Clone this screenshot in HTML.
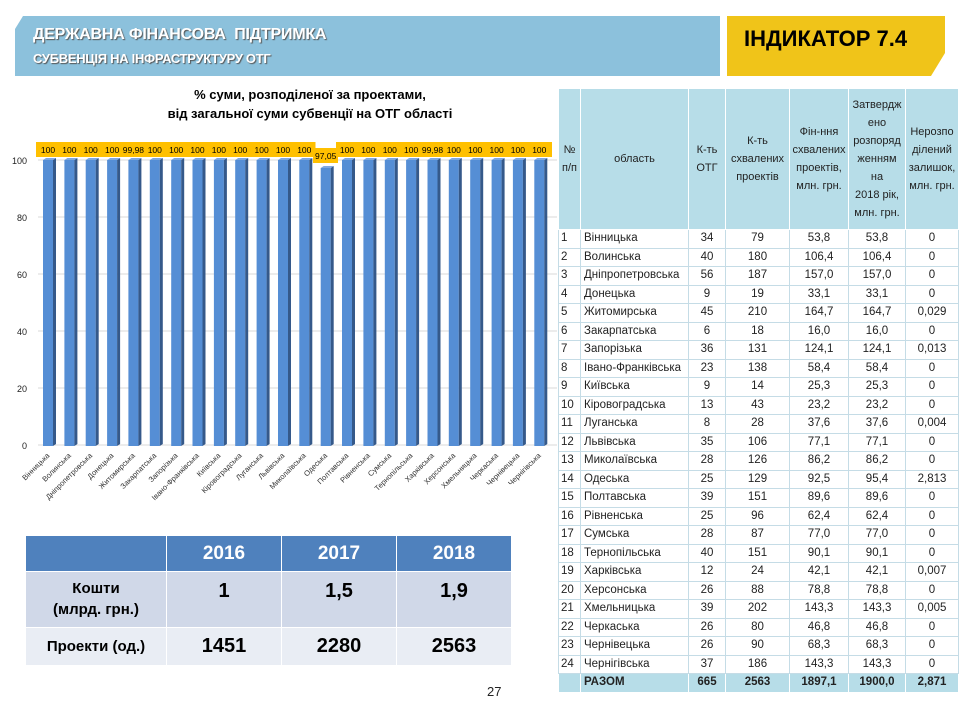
<!DOCTYPE html>
<html><head><meta charset="utf-8"><style>
body{margin:0;width:960px;height:720px;background:#fff;position:relative;overflow:hidden;font-family:"Liberation Sans","DejaVu Sans",sans-serif}
.hb{position:absolute;left:15px;top:16px;width:705px;height:60px;background:#8CC1DC}
.hb .t1{position:absolute;left:18px;top:10px;color:#fff;font-weight:bold;font-size:16px;text-shadow:1px 1px 1px #555;letter-spacing:-0.2px}
.hb .t2{position:absolute;left:18px;top:35px;color:#fff;font-weight:bold;font-size:13px;text-shadow:1px 1px 1px #555;letter-spacing:-0.3px}
.yb{position:absolute;left:727px;top:16px;width:218px;height:60px;background:#F0C419}
.yb span{position:absolute;left:17px;top:10px;font-weight:bold;font-size:22px;color:#000}
table{border-collapse:collapse;table-layout:fixed}
#rt{position:absolute;left:558px;top:88px;width:400px;font-size:11.5px;color:#222}
#rt td{border:1px solid #C5DCE6;padding:0 1px;height:17.5px;line-height:17px;text-align:center;white-space:nowrap;overflow:hidden}
#rt tr.h td{background:#B7DDE8;height:140px;line-height:18px;border-color:#fff;font-size:11px;padding:0}
#rt td.n{text-align:left;padding-left:2px}
#rt td.o{text-align:left;padding-left:3px}
#rt tr.s td{background:#B7DDE8;font-weight:bold;border-color:#fff}
#bt{position:absolute;left:25px;top:535px;width:486px;font-weight:bold;text-align:center}
#bt td{border:1px solid #fff}
</style></head><body>
<div class="hb"><div class="t1">ДЕРЖАВНА ФІНАНСОВА&nbsp; ПІДТРИМКА</div><div class="t2">СУБВЕНЦІЯ НА ІНФРАСТРУКТУРУ ОТГ</div></div>
<div class="yb"><span>ІНДИКАТОР 7.4</span></div>
<svg style="position:absolute;left:0;top:0" width="960" height="90">
<polygon points="15,16 23,16 15,29" fill="#fff"/>
<polygon points="945,53 945,76 931,76" fill="#fff"/>
</svg>

<svg style="position:absolute;left:0;top:0" width="558" height="520" font-family="Liberation Sans, sans-serif">
<text x="310" y="99" text-anchor="middle" font-size="13" font-weight="bold">% суми, розподіленої за проектами,</text>
<text x="310" y="118" text-anchor="middle" font-size="13" font-weight="bold">від загальної суми субвенції на ОТГ області</text>
<g stroke="#D9D9D9" stroke-width="1">
<line x1="38" x2="557" y1="160" y2="160"/><line x1="38" x2="557" y1="217" y2="217"/><line x1="38" x2="557" y1="274" y2="274"/><line x1="38" x2="557" y1="331" y2="331"/><line x1="38" x2="557" y1="388" y2="388"/><line x1="38" x2="557" y1="445" y2="445"/></g>
<g font-size="9" text-anchor="end" fill="#222"><text x="27" y="164">100</text><text x="27" y="221">80</text><text x="27" y="278">60</text><text x="27" y="335">40</text><text x="27" y="392">20</text><text x="27" y="449">0</text></g>
<defs>
<g id="b"><rect x="0" y="160" width="10" height="286" fill="#558ED5"/><polygon points="10,160 13,158 13,444 10,446" fill="#35598A"/><polygon points="0,160 3,158 13,158 10,160" fill="#7FA8E0"/><rect x="-6" y="142" width="22.5" height="15" fill="#FFC000"/></g>
</defs>
<rect x="36" y="142" width="516" height="15" fill="#FFC000"/>
<use href="#b" x="43"/><use href="#b" x="64.4"/><use href="#b" x="85.7"/><use href="#b" x="107.1"/><use href="#b" x="128.4"/><use href="#b" x="149.8"/><use href="#b" x="171.2"/><use href="#b" x="192.5"/><use href="#b" x="213.9"/><use href="#b" x="235.2"/><use href="#b" x="256.6"/><use href="#b" x="278"/><use href="#b" x="299.3"/>
<rect x="315.5" y="142" width="22" height="6" fill="#fff"/>
<rect x="320.7" y="168" width="10" height="278" fill="#558ED5"/><polygon points="330.7,168 333.7,166 333.7,444 330.7,446" fill="#35598A"/><polygon points="320.7,168 323.7,166 333.7,166 330.7,168" fill="#7FA8E0"/><rect x="313" y="148" width="25" height="15" fill="#FFC000"/>
<use href="#b" x="342"/><use href="#b" x="363.4"/><use href="#b" x="384.8"/><use href="#b" x="406.1"/><use href="#b" x="427.5"/><use href="#b" x="448.8"/><use href="#b" x="470.2"/><use href="#b" x="491.6"/><use href="#b" x="512.9"/><use href="#b" x="534.3"/>
<g font-size="8.5" text-anchor="middle" fill="#000">
<text x="48" y="153">100</text><text x="69.4" y="153">100</text><text x="90.7" y="153">100</text><text x="112.1" y="153">100</text><text x="133.4" y="153">99,98</text><text x="154.8" y="153">100</text><text x="176.2" y="153">100</text><text x="197.5" y="153">100</text><text x="218.9" y="153">100</text><text x="240.2" y="153">100</text><text x="261.6" y="153">100</text><text x="283" y="153">100</text><text x="304.3" y="153">100</text><text x="325.7" y="159">97,05</text><text x="347" y="153">100</text><text x="368.4" y="153">100</text><text x="389.8" y="153">100</text><text x="411.1" y="153">100</text><text x="432.5" y="153">99,98</text><text x="453.8" y="153">100</text><text x="475.2" y="153">100</text><text x="496.6" y="153">100</text><text x="517.9" y="153">100</text><text x="539.3" y="153">100</text></g>
<g font-size="7.5" text-anchor="end" fill="#333">
<text transform="translate(50,456) rotate(-45)">Вінницька</text>
<text transform="translate(71.4,456) rotate(-45)">Волинська</text>
<text transform="translate(92.7,456) rotate(-45)">Дніпропетровська</text>
<text transform="translate(114.1,456) rotate(-45)">Донецька</text>
<text transform="translate(135.4,456) rotate(-45)">Житомирська</text>
<text transform="translate(156.8,456) rotate(-45)">Закарпатська</text>
<text transform="translate(178.2,456) rotate(-45)">Запорізька</text>
<text transform="translate(199.5,456) rotate(-45)">Івано-Франківська</text>
<text transform="translate(220.9,456) rotate(-45)">Київська</text>
<text transform="translate(242.2,456) rotate(-45)">Кіровоградська</text>
<text transform="translate(263.6,456) rotate(-45)">Луганська</text>
<text transform="translate(285,456) rotate(-45)">Львівська</text>
<text transform="translate(306.3,456) rotate(-45)">Миколаївська</text>
<text transform="translate(327.7,456) rotate(-45)">Одеська</text>
<text transform="translate(349,456) rotate(-45)">Полтавська</text>
<text transform="translate(370.4,456) rotate(-45)">Рівненська</text>
<text transform="translate(391.8,456) rotate(-45)">Сумська</text>
<text transform="translate(413.1,456) rotate(-45)">Тернопільська</text>
<text transform="translate(434.5,456) rotate(-45)">Харківська</text>
<text transform="translate(455.8,456) rotate(-45)">Херсонська</text>
<text transform="translate(477.2,456) rotate(-45)">Хмельницька</text>
<text transform="translate(498.6,456) rotate(-45)">Черкаська</text>
<text transform="translate(519.9,456) rotate(-45)">Чернівецька</text>
<text transform="translate(541.3,456) rotate(-45)">Чернігівська</text>
</g>
<line x1="15" x2="540" y1="693" y2="693" stroke="#C9D6E0"/>
</svg>

<table id="bt">
<colgroup><col style="width:141px"><col style="width:115px"><col style="width:115px"><col style="width:115px"></colgroup>
<tr style="height:36px;background:#4F81BD;color:#fff;font-size:19px"><td></td><td>2016</td><td>2017</td><td>2018</td></tr>
<tr style="height:56px;background:#D0D8E8;font-size:20px;vertical-align:top"><td style="font-size:15px;line-height:21px;padding-top:6px">Кошти<br>(млрд. грн.)</td><td style="padding-top:8px">1</td><td style="padding-top:8px">1,5</td><td style="padding-top:8px">1,9</td></tr>
<tr style="height:38px;background:#E9EDF4;font-size:20px"><td style="font-size:15px">Проекти (од.)</td><td>1451</td><td>2280</td><td>2563</td></tr>
</table>
<div style="position:absolute;left:487px;top:684px;font-size:13px;color:#222">27</div>

<table id="rt">
<colgroup><col style="width:22px"><col style="width:108px"><col style="width:37px"><col style="width:64px"><col style="width:59px"><col style="width:57px"><col style="width:53px"></colgroup>
<tr class="h"><td>№<br>п/п</td><td>область</td><td>К-ть<br>ОТГ</td><td>К-ть<br>схвалених<br>проектів</td><td>Фін-ння<br>схвалених<br>проектів,<br>млн. грн.</td><td>Затвердж<br>ено<br>розпоряд<br>женням<br>на<br>2018 рік,<br>млн. грн.</td><td>Нерозпо<br>ділений<br>залишок,<br>млн. грн.</td></tr>
<tr><td class="n">1</td><td class="o">Вінницька</td><td>34</td><td>79</td><td>53,8</td><td>53,8</td><td>0</td></tr>
<tr><td class="n">2</td><td class="o">Волинська</td><td>40</td><td>180</td><td>106,4</td><td>106,4</td><td>0</td></tr>
<tr><td class="n">3</td><td class="o">Дніпропетровська</td><td>56</td><td>187</td><td>157,0</td><td>157,0</td><td>0</td></tr>
<tr><td class="n">4</td><td class="o">Донецька</td><td>9</td><td>19</td><td>33,1</td><td>33,1</td><td>0</td></tr>
<tr><td class="n">5</td><td class="o">Житомирська</td><td>45</td><td>210</td><td>164,7</td><td>164,7</td><td>0,029</td></tr>
<tr><td class="n">6</td><td class="o">Закарпатська</td><td>6</td><td>18</td><td>16,0</td><td>16,0</td><td>0</td></tr>
<tr><td class="n">7</td><td class="o">Запорізька</td><td>36</td><td>131</td><td>124,1</td><td>124,1</td><td>0,013</td></tr>
<tr><td class="n">8</td><td class="o">Івано-Франківська</td><td>23</td><td>138</td><td>58,4</td><td>58,4</td><td>0</td></tr>
<tr><td class="n">9</td><td class="o">Київська</td><td>9</td><td>14</td><td>25,3</td><td>25,3</td><td>0</td></tr>
<tr><td class="n">10</td><td class="o">Кіровоградська</td><td>13</td><td>43</td><td>23,2</td><td>23,2</td><td>0</td></tr>
<tr><td class="n">11</td><td class="o">Луганська</td><td>8</td><td>28</td><td>37,6</td><td>37,6</td><td>0,004</td></tr>
<tr><td class="n">12</td><td class="o">Львівська</td><td>35</td><td>106</td><td>77,1</td><td>77,1</td><td>0</td></tr>
<tr><td class="n">13</td><td class="o">Миколаївська</td><td>28</td><td>126</td><td>86,2</td><td>86,2</td><td>0</td></tr>
<tr><td class="n">14</td><td class="o">Одеська</td><td>25</td><td>129</td><td>92,5</td><td>95,4</td><td>2,813</td></tr>
<tr><td class="n">15</td><td class="o">Полтавська</td><td>39</td><td>151</td><td>89,6</td><td>89,6</td><td>0</td></tr>
<tr><td class="n">16</td><td class="o">Рівненська</td><td>25</td><td>96</td><td>62,4</td><td>62,4</td><td>0</td></tr>
<tr><td class="n">17</td><td class="o">Сумська</td><td>28</td><td>87</td><td>77,0</td><td>77,0</td><td>0</td></tr>
<tr><td class="n">18</td><td class="o">Тернопільська</td><td>40</td><td>151</td><td>90,1</td><td>90,1</td><td>0</td></tr>
<tr><td class="n">19</td><td class="o">Харківська</td><td>12</td><td>24</td><td>42,1</td><td>42,1</td><td>0,007</td></tr>
<tr><td class="n">20</td><td class="o">Херсонська</td><td>26</td><td>88</td><td>78,8</td><td>78,8</td><td>0</td></tr>
<tr><td class="n">21</td><td class="o">Хмельницька</td><td>39</td><td>202</td><td>143,3</td><td>143,3</td><td>0,005</td></tr>
<tr><td class="n">22</td><td class="o">Черкаська</td><td>26</td><td>80</td><td>46,8</td><td>46,8</td><td>0</td></tr>
<tr><td class="n">23</td><td class="o">Чернівецька</td><td>26</td><td>90</td><td>68,3</td><td>68,3</td><td>0</td></tr>
<tr><td class="n">24</td><td class="o">Чернігівська</td><td>37</td><td>186</td><td>143,3</td><td>143,3</td><td>0</td></tr>
<tr class="s"><td></td><td class="o">РАЗОМ</td><td>665</td><td>2563</td><td>1897,1</td><td>1900,0</td><td>2,871</td></tr>
</table>
</body></html>
